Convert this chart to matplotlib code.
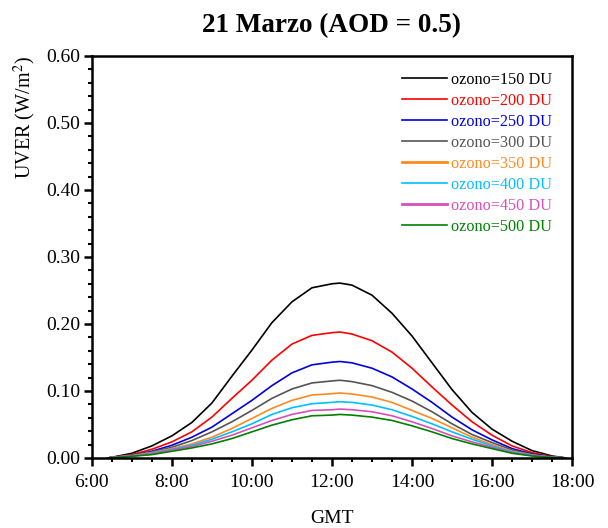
import matplotlib
matplotlib.use('Agg')
import matplotlib.pyplot as plt
from matplotlib.ticker import MultipleLocator, FuncFormatter

# hours GMT
hours = [6.4, 6.5, 7.0, 7.5, 8.0, 8.5, 9.0, 9.5, 10.0, 10.5, 11.0, 11.5, 12.0, 12.2,
         12.5, 13.0, 13.5, 14.0, 14.5, 15.0, 15.5, 16.0, 16.5, 17.0, 17.5, 17.85]

# UVER (W/m2) for each ozone column
uver_150 = [0, 0.001, 0.007, 0.018, 0.033, 0.053, 0.082, 0.122, 0.161, 0.202, 0.233, 0.254, 0.260, 0.261,
            0.258, 0.243, 0.216, 0.182, 0.142, 0.102, 0.068, 0.043, 0.025, 0.011, 0.003, 0]
uver_200 = [0, 0.001, 0.005, 0.013, 0.024, 0.039, 0.061, 0.089, 0.116, 0.146, 0.170, 0.183, 0.187, 0.188,
            0.185, 0.175, 0.158, 0.134, 0.106, 0.079, 0.054, 0.034, 0.018, 0.008, 0.002, 0]
uver_250 = [0, 0.001, 0.004, 0.010, 0.019, 0.031, 0.046, 0.066, 0.086, 0.108, 0.127, 0.139, 0.143, 0.144,
            0.142, 0.134, 0.121, 0.103, 0.083, 0.061, 0.042, 0.027, 0.014, 0.006, 0.0015, 0]
uver_300 = [0, 0.001, 0.004, 0.009, 0.016, 0.026, 0.039, 0.054, 0.071, 0.089, 0.103, 0.112, 0.115, 0.116,
            0.114, 0.108, 0.098, 0.085, 0.069, 0.051, 0.035, 0.023, 0.012, 0.005, 0.001, 0]
uver_350 = [0, 0.0008, 0.0035, 0.008, 0.014, 0.021, 0.031, 0.044, 0.059, 0.074, 0.086, 0.094, 0.096, 0.097,
            0.0955, 0.091, 0.083, 0.071, 0.059, 0.045, 0.031, 0.020, 0.010, 0.0045, 0.001, 0]
uver_400 = [0, 0.0007, 0.003, 0.007, 0.013, 0.019, 0.028, 0.039, 0.051, 0.065, 0.075, 0.081, 0.083, 0.084,
            0.083, 0.079, 0.072, 0.062, 0.051, 0.039, 0.028, 0.018, 0.009, 0.004, 0.001, 0]
uver_450 = [0, 0.0006, 0.003, 0.006, 0.012, 0.017, 0.025, 0.034, 0.045, 0.056, 0.065, 0.071, 0.072, 0.073,
            0.072, 0.069, 0.063, 0.054, 0.044, 0.033, 0.024, 0.016, 0.008, 0.0035, 0.001, 0]
uver_500 = [0, 0.0005, 0.0025, 0.005, 0.010, 0.015, 0.021, 0.029, 0.039, 0.049, 0.057, 0.063, 0.064, 0.065,
            0.064, 0.061, 0.056, 0.048, 0.039, 0.029, 0.021, 0.014, 0.007, 0.003, 0.0008, 0]

labels = ['ozono=150 DU', 'ozono=200 DU', 'ozono=250 DU', 'ozono=300 DU',
          'ozono=350 DU', 'ozono=400 DU', 'ozono=450 DU', 'ozono=500 DU']
series = [uver_150, uver_200, uver_250, uver_300, uver_350, uver_400, uver_450, uver_500]
colors = ['#000000', '#ff0000', '#0000e0', '#555555', '#ff8a1f', '#00c0ff', '#d94fb8', '#008000']

plt.rcParams['font.family'] = ['Liberation Serif', 'DejaVu Serif']
plt.rcParams['mathtext.fontset'] = 'stix'

fig = plt.figure(figsize=(6.08, 5.28), dpi=100)
ax = fig.add_axes([0.151, 0.1326, 0.79, 0.7614])

for vals, lab, col in zip(series, labels, colors):
    ax.plot(hours, vals, color=col, lw=1.2, label=lab)

ax.set_xlim(6, 18)
ax.set_ylim(0, 0.6)
ax.xaxis.set_major_locator(MultipleLocator(2))
ax.xaxis.set_minor_locator(MultipleLocator(0.5))
ax.yaxis.set_major_locator(MultipleLocator(0.1))
ax.yaxis.set_minor_locator(MultipleLocator(0.02))
ax.xaxis.set_major_formatter(FuncFormatter(lambda v, p: '%d:00' % int(round(v))))
ax.yaxis.set_major_formatter(FuncFormatter(lambda v, p: '%.2f' % v))
ax.tick_params(which='major', direction='out', length=5.5, width=1.8, labelsize=14, colors='black')
ax.tick_params(which='minor', direction='out', length=3, width=1.5)
ax.tick_params(axis='y', pad=3)
ax.tick_params(axis='x', pad=6)
for sp in ax.spines.values():
    sp.set_linewidth(1.8)

ax.set_title('21 Marzo (AOD = 0.5)', fontsize=19.5, fontweight='bold', pad=17)
ax.set_xlabel('GMT', fontsize=14, labelpad=14)
ax.set_ylabel('UVER (W/m$^2$)', fontsize=14.5, labelpad=6, loc='top')

leg = ax.legend(loc='upper right', frameon=False, fontsize=11.7, labelcolor='linecolor',
                handlelength=2.8, handletextpad=0.25, labelspacing=0.31,
                borderaxespad=0.2, bbox_to_anchor=(0.979, 0.985))
for h, lab in zip(leg.get_lines(), labels):
    if lab in ('ozono=350 DU', 'ozono=450 DU'):
        h.set_linewidth(2.0)

fig.savefig('out.png', dpi=100)
